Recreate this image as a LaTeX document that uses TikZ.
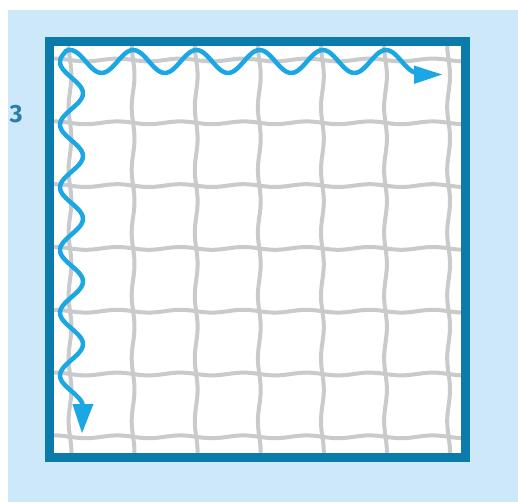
\documentclass[tikz,border=0pt]{standalone}
\usepackage{fontspec}
\newfontfamily\labelfont{Fira Sans}
\definecolor{bgblue}{HTML}{CDE9F9}
\definecolor{frameblue}{HTML}{0B7BAC}
\definecolor{waveblue}{HTML}{1BA6E4}
\definecolor{gridgrey}{HTML}{C9CACC}
\definecolor{numblue}{HTML}{2C7DA8}
\begin{document}
\begin{tikzpicture}[x=1pt,y=-1pt,
  gridline/.style={draw=gridgrey,line width=4pt},
  wave/.style={draw=waveblue,line width=4.5pt,line cap=round,line join=round},
  tiphead/.style={fill=waveblue},
  framebox/.style={draw=frameblue,line width=9pt},
  numlabel/.style={text=numblue,font=\labelfont\bfseries\fontsize{25}{25}\selectfont,inner sep=0pt}]
\useasboundingbox (0,0) rectangle (518,502);
\fill[bgblue] (8,10) rectangle (518,502);
\fill[white] (49.5,41.5) rectangle (465.5,457.5);
\begin{scope}
  \clip (49.5,41.5) rectangle (465.5,457.5);
  \foreach \k in {0,...,6} {
    \pgfmathsetmacro\gx{70+63.1*\k}
    \pgfmathsetmacro\gy{60+62.8*\k}
    \draw[gridline] plot[domain=40:470,samples=80,smooth] ({\gx+1.4*sin((\x-60)*5.73248)}, \x);
    \draw[gridline] plot[domain=40:470,samples=80,smooth] (\x, {\gy+1.4*sin((\x-70)*5.70523)});
  }
\end{scope}
\draw[wave] plot[domain=404:56,samples=160,smooth] ({71.5-11.5*cos((\x-62)*5.74163)}, \x)
  -- plot[domain=66:414,samples=160,smooth] (\x, {61.5-11.5*cos((\x-70)*5.69620)});
\fill[tiphead] (414,65.5) -- (442,74.5) -- (414,84) -- cycle;
\fill[tiphead] (72.5,404) -- (93.5,404) -- (82,433) -- cycle;
\draw[framebox] (49.5,41.5) rectangle (465.5,457.5);
\node[numlabel] (label3) at (16,114) {3};
\end{tikzpicture}
\end{document}
